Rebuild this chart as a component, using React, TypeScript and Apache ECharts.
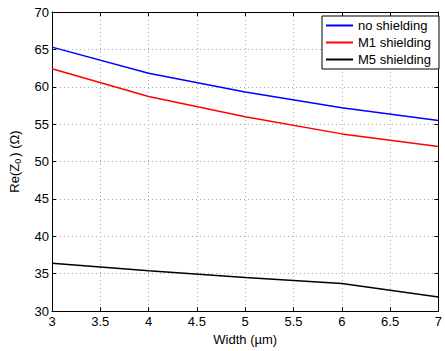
import React, { useEffect, useRef } from "react";
import * as echarts from "echarts";

const widths = [3, 4, 5, 6, 7];
const noShielding = [65.3, 61.8, 59.3, 57.2, 55.5];
const m1Shielding = [62.4, 58.7, 56.0, 53.7, 52.0];
const m5Shielding = [36.4, 35.4, 34.5, 33.7, 31.9];
const seriesNames = ["no shielding", "M1 shielding", "M5 shielding"];
const seriesColors = ["#0000ff", "#ff0000", "#000000"];

const FONT = "Liberation Sans";

export default function App() {
  const ref = useRef<HTMLDivElement>(null);
  useEffect(() => {
    if (!ref.current) return;
    const chart = echarts.init(ref.current, null, { renderer: "svg" });
    const datasets = [noShielding, m1Shielding, m5Shielding];
    const gridLine = { show: true, lineStyle: { color: "#aaaaaa", type: [1, 3] as any, width: 1 } };
    const axisLineStyle = { show: true, lineStyle: { color: "#000", width: 1 } };
    const tick = { show: true, inside: true, length: 4, lineStyle: { color: "#000" } };
    chart.setOption({
      animation: false,
      backgroundColor: "#fff",
      textStyle: { fontFamily: FONT },
      grid: { left: 50, right: 4, top: 12, bottom: 31 },
      legend: {
        orient: "vertical",
        left: 322,
        top: 16,
        padding: [2, 8, 2, 4],
        backgroundColor: "#fff",
        borderColor: "#000",
        borderWidth: 1,
        borderRadius: 0,
        itemWidth: 27,
        itemHeight: 2,
        itemGap: 2,
        itemTextGap: 3,
        icon: "rect",
        textStyle: { fontFamily: FONT, fontSize: 13, color: "#000", lineHeight: 15 },
        data: seriesNames,
      },
      xAxis: [
        {
          type: "value",
          min: 3,
          max: 7,
          interval: 0.5,
          position: "bottom",
          name: "Width (µm)",
          nameLocation: "middle",
          nameGap: 19,
          nameTextStyle: { fontFamily: FONT, fontSize: 13, color: "#000" },
          axisLine: axisLineStyle,
          axisTick: tick,
          axisLabel: { fontFamily: FONT, fontSize: 13, color: "#000", margin: 4 },
          splitLine: gridLine,
        },
        {
          type: "value",
          min: 3,
          max: 7,
          interval: 0.5,
          position: "top",
          axisLine: axisLineStyle,
          axisTick: tick,
          axisLabel: { show: false },
          splitLine: { show: false },
        },
      ],
      yAxis: [
        {
          type: "value",
          min: 30,
          max: 70,
          interval: 5,
          position: "left",
          name: "Re(Z{sub|0}) (Ω)",
          nameLocation: "middle",
          nameGap: 30,
          nameTextStyle: {
            fontFamily: FONT,
            fontSize: 13,
            color: "#000",
            rich: {
              sub: { fontFamily: FONT, fontSize: 9, color: "#000", verticalAlign: "bottom", padding: [6, 2, 0, 0] },
            },
          },
          axisLine: axisLineStyle,
          axisTick: tick,
          axisLabel: { fontFamily: FONT, fontSize: 13, color: "#000", margin: 3 },
          splitLine: gridLine,
        },
        {
          type: "value",
          min: 30,
          max: 70,
          interval: 5,
          position: "right",
          axisLine: axisLineStyle,
          axisTick: tick,
          axisLabel: { show: false },
          splitLine: { show: false },
        },
      ],
      series: datasets.map((d, i) => ({
        name: seriesNames[i],
        type: "line",
        xAxisIndex: 0,
        yAxisIndex: 0,
        symbol: "none",
        color: seriesColors[i],
        lineStyle: { color: seriesColors[i], width: 1.5 },
        data: widths.map((w, j) => [w, d[j]]),
      })),
    });
    return () => chart.dispose();
  }, []);
  return (
    <div
      ref={ref}
      style={{ position: "fixed", left: 0, top: 0, width: 445, height: 351 }}
    />
  );
}
